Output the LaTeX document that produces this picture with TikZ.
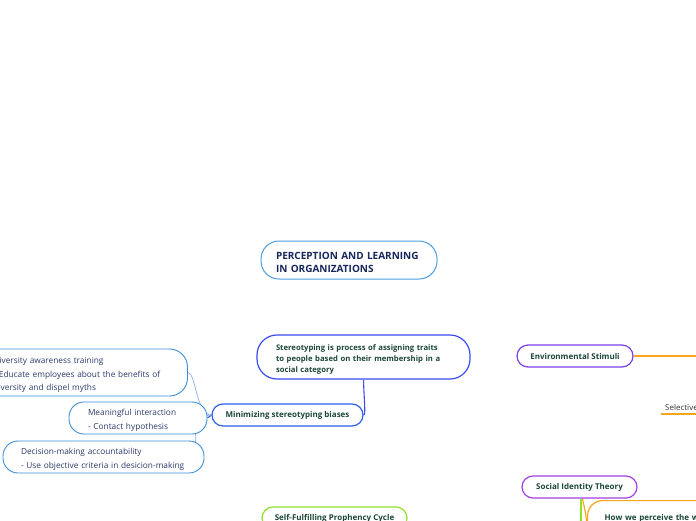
\documentclass[tikz,border=0pt]{standalone}
\usepackage{fontspec}
\setmainfont{Open Sans}
\usetikzlibrary{backgrounds,calc}
\definecolor{titleblue}{HTML}{4D9DE0}
\definecolor{navy}{HTML}{17275C}
\definecolor{stblue}{HTML}{3A4CF5}
\definecolor{minblue}{HTML}{2F5FE8}
\definecolor{childblue}{HTML}{3A8FD6}
\definecolor{thinblue}{HTML}{8FA8F0}
\definecolor{dgreen}{HTML}{1C4736}
\definecolor{childtext}{HTML}{2C3A6A}
\definecolor{envpurple}{HTML}{7A3FF0}
\definecolor{sitpurple}{HTML}{A43EE8}
\definecolor{orangeline}{HTML}{F7A51C}
\definecolor{limegreen}{HTML}{8EE02A}
\tikzset{
  box/.style={rectangle, draw, fill=white, line width=1.2pt, inner ysep=0pt},
  boldtxt/.style={font=\fontsize{8}{11}\selectfont\bfseries, text=dgreen},
  childbox/.style={box, draw=childblue, line width=0.9pt, align=left,
    font=\fontsize{8.3}{13.5}\selectfont, text=childtext},
  conn/.style={line width=1.1pt},
  lower/.style={execute at begin node={\rule{0pt}{#1}}},
}
\begin{document}
\begin{tikzpicture}[x=1pt,y=-1pt]
\useasboundingbox (0,0) rectangle (696,520);
\clip (0,0) rectangle (696,520);

% central topic
\node[box, draw=titleblue, line width=1pt, rounded corners=18pt, minimum height=38pt,
      inner xsep=15pt, text width=146pt, align=left, text=navy, lower=12pt,
      font=\fontsize{10}{13.5}\selectfont\bfseries] (title) at (349,260)
  {PERCEPTION AND LEARNING\\IN ORGANIZATIONS};

% stereotyping
\node[box, draw=stblue, rounded corners=20pt, minimum height=44pt,
      inner xsep=19pt, text width=175pt, align=left, boldtxt, lower=10.5pt,
      font=\fontsize{7.7}{11}\selectfont\bfseries] (stereo) at (363.5,357)
  {Stereotyping is process of assigning traits\\to people based on their membership in a\\social category};

\node[box, draw=minblue, rounded corners=11pt, minimum height=22pt, minimum width=151pt,
      boldtxt] (mini) at (287.5,415) {Minimizing stereotyping biases};

% children of minimizing
\node[childbox, rounded corners=18pt, minimum height=47pt, inner xsep=25pt, text width=169pt, lower=11pt]
  (d1) at (78,372.5)
  {Diversity awareness training\\- Educate employees about the benefits of\\diversity and dispel myths};
\node[childbox, rounded corners=15pt, minimum height=32pt, inner xsep=19pt, text width=100pt, lower=11pt]
  (d2) at (138,418)
  {Meaningful interaction\\- Contact hypothesis};
\node[childbox, rounded corners=15pt, minimum height=32pt, inner xsep=18pt, text width=165pt, lower=11pt]
  (d3) at (103.5,457)
  {Decision-making accountability\\- Use objective criteria in desicion-making};

% right side
\node[box, draw=envpurple, rounded corners=11pt, minimum height=22pt, minimum width=116pt,
      boldtxt] (env) at (575,356) {Environmental Stimuli};
\coordinate (envEnd) at (700,356);

\node[anchor=west, inner sep=0pt, font=\fontsize{8}{9}\selectfont, text=black!80]
  (sel) at (665,407) {Selective};
\coordinate (selA) at (661,414);
\coordinate (selB) at (700,414);

\node[box, draw=sitpurple, rounded corners=11pt, minimum height=22pt, minimum width=115pt,
      boldtxt] (sit) at (579.5,487) {Social Identity Theory};
\coordinate (gEnd) at (580.5,530);

\node[box, draw=orangeline, rounded corners=15pt, minimum height=46pt, inner xsep=17pt,
      text width=200pt, align=left, anchor=north west, boldtxt, font=\fontsize{8}{12}\selectfont\bfseries]
  (how) at (587,500)
  {How we perceive the world\\we define ourselves in};

\node[box, draw=limegreen, rounded corners=11pt, minimum height=22pt, minimum width=145pt,
      boldtxt] (sfp) at (334.5,518) {Self-Fulfilling Prophency Cycle};

% connectors
\begin{scope}[on background layer]
  \fill[white] (0,0) rectangle (696,520);
  \draw[conn, draw=stblue] (stereo.south) .. controls (364,400) and (366,415) .. (mini.east);
  \draw[conn, draw=minblue] (mini.west) -- (d2.east);
  \draw[line width=0.7pt, draw=thinblue] (mini.west) .. controls (196,415) and (196,373) .. (d1.east);
  \draw[line width=0.7pt, draw=thinblue] (mini.west) .. controls (195,415) and (195,430) .. ($(d3.north east)+(-9,2)$);
  \draw[conn, draw=orangeline] (env.east) -- (envEnd);
  \draw[conn, draw=orangeline] (selA) -- (selB);
  \draw[line width=2pt, draw=limegreen] (sit.south) ++(1,0) -- (gEnd);
  \draw[conn, draw=orangeline] (sit.south) ++(3,0) .. controls (585,510) .. (how.west);
\end{scope}
\end{tikzpicture}
\end{document}
